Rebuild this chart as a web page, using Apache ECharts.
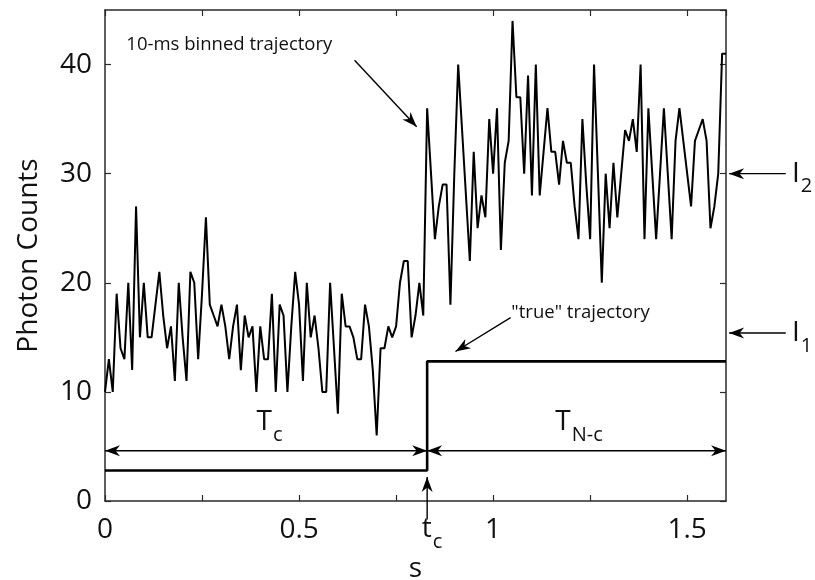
<!DOCTYPE html>
<html>
<head>
<meta charset="utf-8">
<title>Photon Counts</title>
<script src="https://cdn.jsdelivr.net/npm/echarts@6/dist/echarts.min.js"></script>
<style>
    html, body { margin: 0; padding: 0; background: #fff; }
    #photon_counts { width: 815px; height: 580px; }
</style>
</head>
<body>
<div id="photon_counts"></div>
<script>
// 10-ms bins, one count per bin starting at t = 0
var binWidth = 0.01;
var photonCounts = [
    10, 13, 10, 19, 14, 13, 20, 12, 27, 15, 20, 15, 15, 18, 21, 17, 14, 16, 11, 20,
    15, 11, 21, 20, 13, 19, 26, 18, 17, 16, 18, 16, 13,
    16, 18, 12, 17, 15, 16, 10, 16, 13, 13, 19, 10, 18, 17, 10, 16, 21, 18, 11, 20,
    15, 17, 14, 10, 10, 20, 14, 8, 19, 16, 16,
    15, 13, 13, 18, 16, 12, 6, 14, 14, 16, 15, 16, 20, 22, 22, 15, 17, 20, 17, 36,
    30, 24, 27, 29, 29, 18, 30, 40, 34, 28, 22,
    32, 25, 28, 26, 35, 30, 36, 23, 31, 33, 44, 37, 37, 30, 39, 28, 40, 28, 32, 36,
    32, 32, 29, 33, 31, 31, 27, 24, 35, 29, 24, 40, 30, 20, 30, 25, 31, 26, 30, 34,
    33, 35, 32, 40, 24, 36, 30, 24, 30, 36, 30, 24, 33, 36, 33, 30, 27, 33, 34, 35,
    33, 25, 27, 30, 41, 41
];
// "true" two-state trajectory
var trueLevels = [2.8, 12.8];
var changePoint = 0.83;
// axes
var xRange = [0, 1.6];
var yRange = [0, 45];
var xTickStep = 0.25;
var yTickStep = 10;
// annotation levels
var intensityMarks = [{name: 'I', sub: '2', value: 30}, {name: 'I', sub: '1', value: 15.4}];
var spanLevel = 4.6;

var FONT = '"Open Sans", "Noto Sans", sans-serif';

$ready(function () {
    photonCountsChart();
});

function $ready(fn) {
    if (document.readyState !== 'loading') { fn(); } else { document.addEventListener('DOMContentLoaded', fn); }
}

/**
 * 光子计数轨迹图
 */
function photonCountsChart() {
    var myChart = echarts.init(document.getElementById('photon_counts'), null, {renderer: 'canvas'});
    var binned = photonCounts.map(function (c, i) {
        return [+(i * binWidth).toFixed(2), c];
    });
    var truePath = [
        [xRange[0], trueLevels[0]],
        [changePoint, trueLevels[0]],
        [changePoint, trueLevels[1]],
        [xRange[1], trueLevels[1]]
    ];
    var axisLine = {onZero: false, lineStyle: {color: '#2a2a2a', width: 1.5}};
    var axisTick = {inside: true, length: 6, lineStyle: {color: '#2a2a2a', width: 1.2}};
    var option = null;
    option = {
        animation: false,
        backgroundColor: '#fff',
        grid: {left: 105, top: 10, width: 621, height: 491, containLabel: false, outerBoundsMode: 'none'},
        xAxis: [
            {
                type: 'value', position: 'bottom', min: xRange[0], max: xRange[1], interval: xTickStep,
                splitLine: {show: false}, axisLine: axisLine, axisTick: axisTick,
                axisLabel: {
                    margin: 15, fontSize: 28, fontFamily: FONT, color: '#111',
                    showMaxLabel: false,
                    formatter: function (v) {
                        return Math.abs(v * 2 - Math.round(v * 2)) < 1e-6 && v < 1.55 ? String(v) : '';
                    }
                },
                name: 's', nameLocation: 'middle', nameGap: 54,
                nameTextStyle: {fontSize: 28, fontFamily: FONT, color: '#111'}
            },
            {
                type: 'value', position: 'top', min: xRange[0], max: xRange[1], interval: xTickStep,
                splitLine: {show: false}, axisLine: axisLine, axisTick: axisTick, axisLabel: {show: false}
            }
        ],
        yAxis: [
            {
                type: 'value', position: 'left', min: yRange[0], max: yRange[1], interval: yTickStep,
                splitLine: {show: false}, axisLine: axisLine, axisTick: axisTick,
                axisLabel: {
                    margin: 13, fontSize: 28, fontFamily: FONT, color: '#111',
                    showMaxLabel: false,
                    formatter: function (v) {
                        return v % 10 === 0 && v < 45 ? String(v) : '';
                    }
                },
                name: 'Photon Counts', nameLocation: 'middle', nameGap: 62,
                nameTextStyle: {fontSize: 28, fontFamily: FONT, color: '#111'}
            },
            {
                type: 'value', position: 'right', min: yRange[0], max: yRange[1], interval: yTickStep,
                splitLine: {show: false}, axisLine: axisLine, axisTick: axisTick, axisLabel: {show: false}
            }
        ],
        series: [
            {
                name: '10-ms binned trajectory',
                type: 'line',
                data: binned,
                showSymbol: false,
                symbol: 'none',
                lineStyle: {color: '#000', width: 2},
                z: 3
            },
            {
                name: '"true" trajectory',
                type: 'line',
                data: truePath,
                showSymbol: false,
                symbol: 'none',
                lineStyle: {color: '#000', width: 2.6},
                z: 2
            }
        ]
    };
    if (option && typeof option === "object") {
        myChart.setOption(option, true);
    }
    myChart.setOption({graphic: buildAnnotations(myChart)});
}

/**
 * 数据坐标 -> 像素坐标
 */
function toPx(chart, x, y) {
    return chart.convertToPixel({seriesIndex: 0}, [x, y]);
}

function arrowHead(tip, from) {
    var len = 15, half = 5.5;
    var dx = tip[0] - from[0], dy = tip[1] - from[1];
    var d = Math.sqrt(dx * dx + dy * dy);
    var ux = dx / d, uy = dy / d, nx = -uy, ny = ux;
    var bx = tip[0] - ux * len, by = tip[1] - uy * len;
    return {
        type: 'polygon', silent: true, z: 10,
        shape: {points: [
            tip,
            [bx + nx * half, by + ny * half],
            [tip[0] - ux * len * 0.7, tip[1] - uy * len * 0.7],
            [bx - nx * half, by - ny * half]
        ]},
        style: {fill: '#000'}
    };
}

function arrow(from, to, both) {
    var list = [{
        type: 'polyline', silent: true, z: 10,
        shape: {points: [from, to]},
        style: {stroke: '#000', lineWidth: 1.4, fill: null}
    }, arrowHead(to, from)];
    if (both) {
        list.push(arrowHead(from, to));
    }
    return list;
}

function label(p, text, size, align) {
    return {
        type: 'text', silent: true, z: 10, x: p[0], y: p[1],
        style: {text: text, fontSize: size, fontFamily: FONT, fill: '#111', align: align, verticalAlign: 'middle'}
    };
}

// main glyph ends at the split point, subscript starts there and sits lower
function subLabel(p, main, sub) {
    return [
        label(p, main, 28, 'right'),
        label([p[0] + 1, p[1] + 13], sub, 20, 'left')
    ];
}

function buildAnnotations(chart) {
    var g = [];
    // 10-ms binned trajectory
    g.push(label(toPx(chart, 0.055, 41.8), '10-ms binned trajectory', 18.5, 'left'));
    g = g.concat(arrow(toPx(chart, 0.643, 40.4), toPx(chart, 0.803, 34.3)));
    // "true" trajectory
    g.push(label(toPx(chart, 1.047, 17.3), '"true" trajectory', 18.5, 'left'));
    g = g.concat(arrow(toPx(chart, 1.045, 16.8), toPx(chart, 0.903, 13.7)));
    // T_c and T_N-c spans
    g = g.concat(arrow(toPx(chart, xRange[0], spanLevel), toPx(chart, changePoint, spanLevel), true));
    g = g.concat(arrow(toPx(chart, changePoint, spanLevel), toPx(chart, xRange[1], spanLevel), true));
    g = g.concat(subLabel(toPx(chart, 0.43, 7.2), 'T', 'c'));
    g = g.concat(subLabel(toPx(chart, 1.2, 7.2), 'T', 'N-c'));
    // t_c marker below the axis
    g = g.concat(arrow(toPx(chart, changePoint, -1.7), toPx(chart, changePoint, 2.2)));
    g = g.concat(subLabel(toPx(chart, 0.842, -2.6), 't', 'c'));
    // I1 / I2 on the right
    intensityMarks.forEach(function (m) {
        g = g.concat(arrow(toPx(chart, 1.754, m.value), toPx(chart, 1.608, m.value)));
        g = g.concat(subLabel(toPx(chart, 1.79, m.value), m.name, m.sub));
    });
    return g;
}
</script>
</body>
</html>
